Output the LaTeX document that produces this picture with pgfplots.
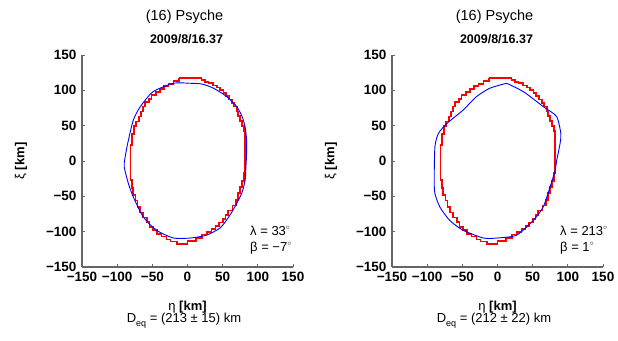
\documentclass[border=0pt]{standalone}
\usepackage{pgfplots}
\pgfplotsset{compat=1.18}
\usepackage{pgfplotstable}
\usepackage{fontspec}
\setmainfont{Liberation Sans}

\pgfplotstableread{
x y
-12 117
20 117
20 115
25 115
25 112
30 112
30 110
36 110
36 107
42 107
42 104
46 104
46 100
51 100
51 96
55 96
55 92
59 92
59 87
63 87
63 82
66 82
66 77
70 77
70 70
72 70
72 64
75 64
75 57
77 57
77 50
80 50
80 42
82 42
82 -17
80 -17
80 -28
77 -28
77 -37
75 -37
75 -45
72 -45
72 -55
69 -55
69 -63
64 -63
64 -70
58 -70
58 -76
54 -76
54 -82
50 -82
50 -87
45 -87
45 -92
40 -92
40 -96
34 -96
34 -100
28 -100
28 -104
21 -104
21 -109
12 -109
12 -113
0 -113
0 -117
-15 -117
-15 -114
-24 -114
-24 -111
-30 -111
-30 -107
-37 -107
-37 -103
-43 -103
-43 -98
-49 -98
-49 -93
-54 -93
-54 -86
-58 -86
-58 -80
-63 -80
-63 -73
-68 -73
-68 -65
-71 -65
-71 -56
-74 -56
-74 -48
-77 -48
-77 -38
-79 -38
-79 -27
-81 -27
-81 23
-79 23
-79 38
-76 38
-76 50
-73 50
-73 56
-69 56
-69 63
-66 63
-66 70
-63 70
-63 77
-60 77
-60 83
-55 83
-55 88
-51 88
-51 93
-45 93
-45 98
-39 98
-39 102
-33 102
-33 106
-27 106
-27 109
-20 109
-20 113
-12 113
-12 117
}\redtab

\pgfplotstableread{
x y
3 110
20 109
37 103
56 91
70 77
78 62
82 48
84 30
84 10
83 -10
82 -27
77 -46
65 -69
56 -83
46 -95
27 -105
4 -109
-20 -109
-44 -98
-63 -79
-77 -51
-84 -32
-89 -13
-90 -3
-85 25
-77 58
-67 77
-49 98
-20 110
3 110
}\blueA

\pgfplotstableread{
x y
13 110
37 98
65 77
84 63
90 39
89 25
84 0
82 -13
75 -36
65 -65
51 -84
27 -105
-1 -109
-20 -109
-49 -98
-68 -84
-82 -65
-89 -46
-90 -27
-89 20
-84 39
-72 53
-49 72
-30 91
-11 103
13 110
}\blueB

\pgfplotsset{
  psy/.style={
    anchor=south west, scale only axis, width=211pt, height=212pt,
    xmin=-150, xmax=150, ymin=-150, ymax=150,
    axis x line*=bottom, axis y line*=left,
    axis line style={black!60, line width=1.1pt},
    tick style={black!60, line width=0.8pt},
    tick align=inside, major tick length=3pt,
    xtick={-150,-100,...,150}, ytick={-150,-100,...,150},
    xticklabels={−150,−100,−50,0,50,100,150},
    yticklabels={−150,−100,−50,0,50,100,150},
    ticklabel style={font=\bfseries\fontsize{13.5}{13.5}\selectfont, text=black},
    xticklabel style={yshift=-2pt},
    yticklabel style={xshift=-2pt},
    clip=false,
  }
}

\begin{document}
\begin{tikzpicture}[x=1pt,y=1pt]
\useasboundingbox (0,0) rectangle (618,340);

\begin{axis}[psy, at={(82pt,73pt)}]
\addplot[draw=red, line width=1.7pt] table[x=x,y=y]{\redtab};
\addplot[draw=blue, line width=0.9pt, smooth, tension=0.4] table[x=x,y=y]{\blueA};
\end{axis}

\begin{axis}[psy, at={(392pt,73pt)}]
\addplot[draw=red, line width=1.7pt] table[x=x,y=y]{\redtab};
\addplot[draw=blue, line width=0.9pt, smooth, tension=0.4] table[x=x,y=y]{\blueB};
\end{axis}

\foreach \dx/\lam/\bet/\deq in {0/33/−7/213 ± 15, 310/213/1/212 ± 22}{
  \node[font=\fontsize{14.5}{14.5}\selectfont] at (184.5+\dx, 323) {(16) Psyche};
  \node[font=\bfseries\fontsize{12.5}{12.5}\selectfont] at (186.5+\dx, 301) {2009/8/16.37};
  \node[rotate=90, font=\fontsize{13}{13}\selectfont] at (21+\dx, 179) {ξ \textbf{[km]}};
  \node[font=\fontsize{13}{13}\selectfont] at (187.5+\dx, 33) {η \textbf{[km]}};
  \node[font=\fontsize{13}{13}\selectfont] at (184+\dx, 19) {D\raisebox{-0.55ex}{\fontsize{9}{9}\selectfont eq} = (\deq) km};
  \node[anchor=west, font=\fontsize{13}{13}\selectfont, inner sep=0pt] at (250+\dx, 109) {λ = \lam\raisebox{0.9ex}{\fontsize{7}{7}\selectfont$\circ$}};
  \node[anchor=west, font=\fontsize{13}{13}\selectfont, inner sep=0pt] at (250+\dx, 92) {β = \bet\raisebox{0.9ex}{\fontsize{7}{7}\selectfont$\circ$}};
}
\end{tikzpicture}
\end{document}
